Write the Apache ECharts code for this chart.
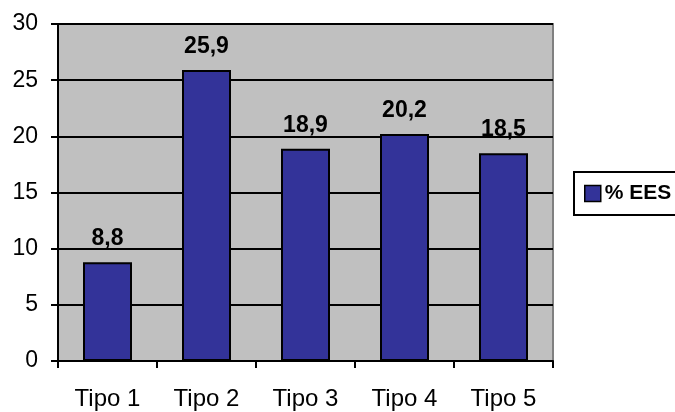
<!DOCTYPE html>
<html>
<head>
<meta charset="utf-8">
<script src="https://cdn.jsdelivr.net/npm/echarts@6/dist/echarts.min.js"></script>
<style>html,body{margin:0;padding:0;background:#fff}#c{width:675px;height:412px}</style>
</head>
<body>
<div id="c"></div>
<script>
var categories = ['Tipo 1', 'Tipo 2', 'Tipo 3', 'Tipo 4', 'Tipo 5'];
var values = [8.8, 25.9, 18.9, 20.2, 18.5];
var seriesName = '% EES';

var chart = echarts.init(document.getElementById('c'), null, {renderer: 'canvas'});
chart.setOption({
  animation: false,
  backgroundColor: '#ffffff',
  grid: {
    left: 58, right: 122, top: 24, bottom: 51,
    show: true, backgroundColor: '#C0C0C0', borderColor: '#808080', borderWidth: 2
  },
  legend: {
    left: 574, top: 172,
    padding: [11, 30, 11, 10],
    borderColor: '#000', borderWidth: 2,
    itemWidth: 16, itemHeight: 16, itemGap: 0,
    icon: 'rect',
    textStyle: {fontFamily: 'Liberation Sans', fontWeight: 'bold', fontSize: 21, color: '#000', padding: [0, 0, 0, -1]},
    data: [{name: seriesName, itemStyle: {borderColor: '#000', borderWidth: 1.5}}]
  },
  xAxis: {
    type: 'category',
    data: categories,
    axisLine: {lineStyle: {color: '#000', width: 2}},
    axisTick: {show: true, length: 7, lineStyle: {color: '#000', width: 2}},
    axisLabel: {fontFamily: 'Liberation Sans', fontSize: 24, color: '#000', margin: 26}
  },
  yAxis: {
    type: 'value', min: 0, max: 30, interval: 5,
    axisLine: {show: true, lineStyle: {color: '#000', width: 2}},
    axisTick: {show: true, length: 7, lineStyle: {color: '#000', width: 2}},
    axisLabel: {fontFamily: 'Liberation Sans', fontSize: 23, color: '#000', margin: 20},
    splitLine: {lineStyle: {color: '#000', width: 2}}
  },
  series: [{
    name: seriesName,
    type: 'bar',
    data: values,
    barWidth: 49,
    itemStyle: {color: '#333399', borderColor: '#000', borderWidth: 2},
    label: {
      show: true, position: 'top', distance: 12,
      fontFamily: 'Liberation Sans', fontWeight: 'bold', fontSize: 23, color: '#000',
      formatter: function (p) { return String(p.value.toFixed(1)).replace('.', ','); }
    }
  }]
});
</script>
</body>
</html>
